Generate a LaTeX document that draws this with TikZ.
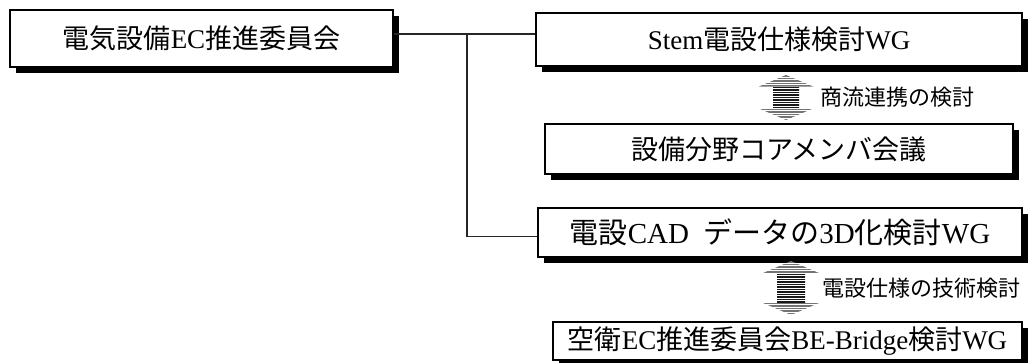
\documentclass[tikz,border=0pt]{standalone}
\usepackage{fontspec}
\setmainfont{Liberation Serif}
\newfontfamily\jp{Noto Sans CJK JP}
\usetikzlibrary{shadows}
\begin{document}
\begin{tikzpicture}[x=1pt,y=-1pt,
  box/.style={draw=black, line width=1.7pt, fill=white, inner sep=0pt,
    drop shadow={shadow xshift=5.5pt, shadow yshift=-5.5pt, fill=black, opacity=1},
    font=\fontsize{27}{30}\selectfont},
  conn/.style={draw=black!85, line width=1.3pt},
  lab/.style={anchor=west, inner sep=0pt, font=\fontsize{22}{24}\selectfont},
  stripe/.style={line width=1.3pt}]
\useasboundingbox (0,0) rectangle (1034,362);
\node[box, minimum width=383pt, minimum height=57pt] (b1) at (201.5,38.5) {{\jp 電気設備}EC{\jp 推進委員会}};
\node[box, minimum width=486pt, minimum height=53pt] (b2) at (779,39.5) {Stem{\jp 電設仕様検討}WG};
\node[box, minimum width=468pt, minimum height=50pt] (b3) at (779,149) {{\jp 設備分野コアメンバ会議}};
\node[box, minimum width=484pt, minimum height=49pt, font=\fontsize{29}{31}\selectfont] (b4) at (780,232.5) {{\jp 電設}CAD\hspace{0.5em}{\jp データの}3D{\jp 化検討}WG};
\node[box, minimum width=469pt, minimum height=38pt] (b5) at (787.5,341) {{\jp 空衛}EC{\jp 推進委員会}BE-Bridge{\jp 検討}WG};
% connectors
\coordinate (j) at (467,34);
\coordinate (k) at (467,236.5);
\draw[conn] (j -| b1.east) -- (j -| b2.west);
\draw[conn] (j) -- (k) -- (k -| b4.west);
% double arrow 1
\begin{scope}
  \clip (786,75) -- (813,86.5) -- (759,86.5) -- cycle;
  \foreach \y in {76,78.5,...,87} \draw[stripe, black!55] (750,\y) -- (830,\y);
\end{scope}
\begin{scope}
  \clip (786,120) -- (813,108.5) -- (759,108.5) -- cycle;
  \foreach \y in {109.5,112,...,121} \draw[stripe, black!55] (750,\y) -- (830,\y);
\end{scope}
\begin{scope}
  \clip (773,86.5) rectangle (799,108.5);
  \foreach \y in {87.5,90,...,109} \draw[stripe, black!90] (750,\y) -- (830,\y);
\end{scope}
% double arrow 2
\begin{scope}
  \clip (791,261) -- (820,273.5) -- (762,273.5) -- cycle;
  \foreach \y in {262,264.5,...,274} \draw[stripe, black!55] (750,\y) -- (830,\y);
\end{scope}
\begin{scope}
  \clip (791,315) -- (820,302.5) -- (762,302.5) -- cycle;
  \foreach \y in {303.5,306,...,316} \draw[stripe, black!55] (750,\y) -- (830,\y);
\end{scope}
\begin{scope}
  \clip (777,273.5) rectangle (805,302.5);
  \foreach \y in {274.5,277,...,303} \draw[stripe, black!90] (750,\y) -- (830,\y);
\end{scope}
\node[lab] (l1) at (820,97) {\jp 商流連携の検討};
\node[lab] (l2) at (822,288) {\jp 電設仕様の技術検討};
\end{tikzpicture}
\end{document}
